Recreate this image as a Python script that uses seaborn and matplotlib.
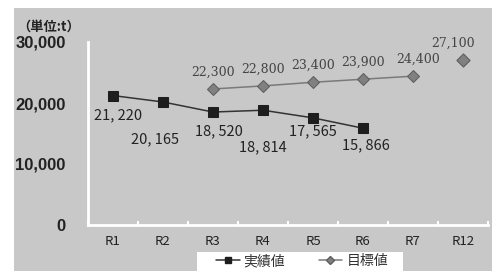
import matplotlib
matplotlib.use("Agg")
import matplotlib.pyplot as plt
from matplotlib.patches import Rectangle
from matplotlib.lines import Line2D
import pandas as pd
import seaborn as sns

# データ
categories = ["R1", "R2", "R3", "R4", "R5", "R6", "R7", "R12"]
actual_cats = ["R1", "R2", "R3", "R4", "R5", "R6"]
actual_vals = [21220, 20165, 18520, 18814, 17565, 15866]
target_cats = ["R3", "R4", "R5", "R6", "R7"]
target_vals = [22300, 22800, 23400, 23900, 24400]
target_far_cat = ["R12"]
target_far_val = [27100]
y_ticks = [0, 10000, 20000, 30000]

# ラベルのずらし量 (points)
actual_offsets = [(4, -14), (-6, -27), (4, -14), (0, -27), (0, -10), (2, -12)]
target_offsets = [(0, 12), (0, 12), (0, 12), (0, 12), (4, 12)]
far_offset = (-7, 12)

GRAY_BG = "#c8c8c8"
CJK = ["Noto Sans CJK JP", "DejaVu Sans"]

sns.set_theme(style="white")
plt.rcParams["font.family"] = CJK

pos = {c: i for i, c in enumerate(categories)}
df_act = pd.DataFrame({"x": [pos[c] for c in actual_cats], "y": actual_vals})
df_tgt = pd.DataFrame({"x": [pos[c] for c in target_cats], "y": target_vals})
df_far = pd.DataFrame({"x": [pos[c] for c in target_far_cat], "y": target_far_val})

fig = plt.figure(figsize=(5.02, 2.71), dpi=100)
fig.patch.set_facecolor("white")
# 灰色の背景パネルと凡例の白い帯
fig.patches.append(Rectangle((14 / 502, 0), 478 / 502, 263 / 271,
                             transform=fig.transFigure, facecolor=GRAY_BG,
                             edgecolor="none", zorder=-10))
fig.patches.append(Rectangle((197 / 502, 0), 206 / 502, 19 / 271,
                             transform=fig.transFigure, facecolor="white",
                             edgecolor="none", zorder=-9))

ax = fig.add_axes([88 / 502, 46 / 271, 400 / 502, 183 / 271])
ax.set_facecolor("none")

sns.lineplot(data=df_act, x="x", y="y", ax=ax, color="#333333", linewidth=1.1,
             marker="s", markersize=6.5, markerfacecolor="#1e1e1e",
             markeredgecolor="#1e1e1e", zorder=3)
sns.lineplot(data=df_tgt, x="x", y="y", ax=ax, color="#7a7a7a", linewidth=1.1,
             marker="D", markersize=6.3, markerfacecolor="#808080",
             markeredgecolor="#5e5e5e", zorder=3)
sns.scatterplot(data=df_far, x="x", y="y", ax=ax, marker="D", s=45,
                color="#808080", edgecolor="#5e5e5e", linewidth=0.8, zorder=3)

for xv, yv, off in zip(df_act["x"], df_act["y"], actual_offsets):
    ax.annotate(f"{yv:,}".replace(",", ", "), (xv, yv), xytext=off,
                textcoords="offset points", ha="center", va="center",
                fontsize=10.5, color="#222222", family=CJK)
for xv, yv, off in zip(df_tgt["x"], df_tgt["y"], target_offsets):
    ax.annotate(f"{yv:,}", (xv, yv), xytext=off, textcoords="offset points",
                ha="center", va="center", fontsize=9, color="#444444",
                family=["DejaVu Serif"])
for xv, yv in zip(df_far["x"], df_far["y"]):
    ax.annotate(f"{yv:,}", (xv, yv), xytext=far_offset, textcoords="offset points",
                ha="center", va="center", fontsize=9, color="#444444",
                family=["DejaVu Serif"])

ax.set_xlim(-0.5, len(categories) - 0.5)
ax.set_ylim(0, 30000)
ax.set_xticks(range(len(categories)))
ax.set_xticklabels(categories)
ax.set_xticks([i - 0.5 for i in range(len(categories) + 1)], minor=True)
ax.set_yticks(y_ticks)
ax.set_yticklabels([f"{v:,}" for v in y_ticks])
ax.set_xlabel("")
ax.set_ylabel("")

for side in ["top", "right"]:
    ax.spines[side].set_visible(False)
for side in ["left", "bottom"]:
    ax.spines[side].set_color("white")
    ax.spines[side].set_linewidth(2)

ax.tick_params(axis="x", which="major", length=0, pad=7, labelsize=9.5,
               labelcolor="#222222")
ax.tick_params(axis="x", which="minor", direction="in", length=3, width=1.5,
               color="white", bottom=True)
ax.tick_params(axis="y", direction="in", length=3, width=1.5, color="white",
               pad=16, labelsize=12, labelcolor="#222222")
for lbl in ax.get_yticklabels():
    lbl.set_fontweight("bold")
    lbl.set_family(["Liberation Sans", "DejaVu Sans"])

fig.text(17 / 502, 1 - 27 / 271, "（単位:t）", fontsize=9.5, fontweight="bold",
         va="center", ha="left", color="#222222", family=CJK)

handles = [
    Line2D([], [], color="#333333", lw=1.1, marker="s", markersize=5,
           markerfacecolor="#1e1e1e", markeredgecolor="#1e1e1e"),
    Line2D([], [], color="#7a7a7a", lw=1.1, marker="D", markersize=4,
           markerfacecolor="#808080", markeredgecolor="#5e5e5e"),
]
leg = fig.legend(handles, ["実績値", "目標値"], loc="center",
                 bbox_to_anchor=(302 / 502, 10 / 271), ncol=2, fontsize=10,
                 frameon=False, handlelength=1.7, columnspacing=2.4,
                 borderpad=0.2, handletextpad=0.3)
for t in leg.get_texts():
    t.set_color("#333333")

fig.savefig("out.png", dpi=100, facecolor="white")
